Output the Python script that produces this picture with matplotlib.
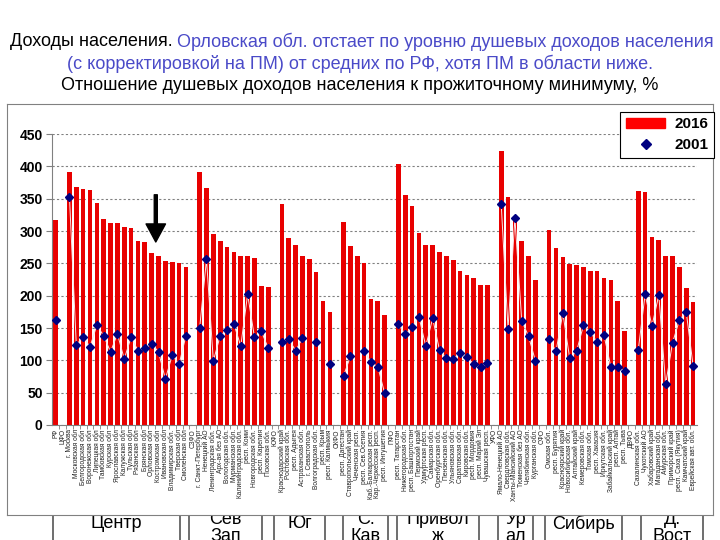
import numpy as np
import matplotlib
matplotlib.use("Agg")
import matplotlib.pyplot as plt
from matplotlib.patches import Rectangle
from matplotlib.lines import Line2D

nan = np.nan

# regions in the order of the chart, district names mark the empty slots
regions = [
    "РФ", "ЦФО", "г. Москва", "Московская обл", "Белгородская обл", "Воронежская обл",
    "Липецкая обл", "Тамбовская обл", "Курская обл", "Ярославская обл", "Калужская обл",
    "Тульская обл", "Рязанская обл", "Брянская обл", "Орловская обл", "Костромская обл",
    "Ивановская обл", "Владимирская обл.", "Тверская обл", "Смоленская обл",
    "СЗФО", "г. Санкт-Петербург", "Ненецкий АО", "Ленинградская обл.", "Арх-ая без АО",
    "Вологодская обл.", "Мурманская обл.", "Калининградская обл.", "респ. Коми",
    "Новгородская обл.", "респ. Карелия", "Псковская обл.",
    "ЮФО", "Краснодарский край", "Ростовская обл.", "респ. Адыгея", "Астраханская обл.",
    "г. Севастополь", "Волгоградская обл.", "респ. Крым", "респ. Калмыкия",
    "СКФО", "респ. Дагестан", "Ставропольский край", "Чеченская респ.", "респ. Сев.Осетия",
    "Каб.-Балкарская респ.", "Кар.-Черкесская респ.", "респ. Ингушетия",
    "ПФО", "респ. Татарстан", "Нижегородская обл.", "респ. Башкортостан", "Пермский край",
    "Удмуртская респ.", "Самарская обл.", "Оренбургская обл.", "Пензенская обл.",
    "Ульяновская обл.", "Саратовская обл.", "Кировская обл.", "респ. Мордовия",
    "респ. Марий Эл", "Чувашская респ.",
    "УФО", "Ямало-Ненецкий АО", "Свердловская обл.", "Ханты-Мансийский АО",
    "Тюменская без АО", "Челябинская обл.", "Курганская обл.",
    "СФО", "Омская обл.", "респ. Бурятия", "Красноярский край", "Новосибирская обл.",
    "Алтайский край", "Кемеровская обл.", "Томская обл.", "респ. Хакасия", "Иркутская обл.",
    "Забайкальский край", "респ. Алтай", "респ. Тыва",
    "ДВФО", "Сахалинская обл.", "Чукотский АО", "Хабаровский край", "Магаданская обл.",
    "Амурская обл.", "Приморский край", "респ. Саха (Якутия)", "Камчатский край",
    "Еврейская авт. обл.",
]

inc_2016 = [
    317, nan, 392, 368, 365, 364, 344, 318, 313, 313, 306, 305, 285, 283, 266, 262, 253, 252, 250, 244,
    nan, 391, 367, 296, 285, 275, 268, 261, 261, 259, 215, 213,
    nan, 342, 289, 278, 262, 257, 236, 192, 175,
    nan, 314, 277, 262, 251, 195, 192, 170,
    nan, 403, 356, 339, 297, 279, 278, 268, 261, 255, 238, 232, 228, 216, 216,
    nan, 424, 353, 318, 285, 262, 225,
    nan, 301, 274, 260, 249, 248, 244, 238, 238, 227, 225, 192, 146,
    nan, 362, 360, 290, 286, 262, 261, 244, 212, 190,
]

inc_2001 = [
    163, nan, 353, 124, 136, 121, 154, 138, 113, 141, 102, 136, 115, 119, 126, 113, 71, 108, 94, 138,
    nan, 150, 256, 99, 138, 147, 156, 122, 202, 136, 145, 119,
    nan, 128, 133, 115, 134, nan, 129, nan, 94,
    nan, 76, 106, nan, 115, 97, 90, 49,
    nan, 156, 140, 152, 167, 122, 165, 116, 103, 102, 112, 105, 94, 90, 96,
    nan, 342, 149, 320, 161, 137, 99,
    nan, 133, 114, 173, 103, 114, 154, 144, 128, 139, 90, 90, 84,
    nan, 116, 202, 153, 201, 63, 127, 162, 175, 92,
]

districts = ["Центр", "Сев\nЗап", "Юг", "С.\nКав", "Привол\nж", "Ур\nал", "Сибирь", "Д.\nВост"]

W, H = 720, 540
box_edges = [(53, 180), (189, 262), (274, 325), (343, 388), (397, 479),
             (498, 533), (545, 622), (641, 703)]

plt.rcParams['font.family'] = ['Liberation Sans', 'DejaVu Sans']
narrow = ['Liberation Sans Narrow', 'Liberation Sans', 'DejaVu Sans']

fig = plt.figure(figsize=(7.2, 5.4), dpi=100)

# district boxes under the chart area (their upper lines hide behind it)
bx = fig.add_axes([0, 0, 1, 1], zorder=0)
bx.set_xlim(0, W)
bx.set_ylim(H, 0)
bx.axis('off')
for name, (x0, x1) in zip(districts, box_edges):
    bx.add_patch(Rectangle((x0, 514), x1 - x0, 40, fill=False, ec='#555555', lw=1.2))
    yc = 528 if '\n' in name else 524
    bx.text((x0 + x1) / 2, yc, name, ha='center', va='center', fontsize=13,
            family=narrow, linespacing=1.0)

# white chart area with grey border
ca = fig.add_axes([7 / W, 1 - 515 / H, 706 / W, (515 - 104) / H], zorder=1)
ca.set_xticks([])
ca.set_yticks([])
for s in ca.spines.values():
    s.set_color('#808080')
    s.set_linewidth(0.8)

ax = fig.add_axes([52.3 / W, 1 - 425 / H, (696.5 - 52.3) / W, (425 - 134) / H], zorder=2)
ax.patch.set_alpha(0)

x = np.arange(len(regions))
ax.bar(x, inc_2016, width=0.68, color='#e80000', zorder=2)
ax.plot(x, inc_2001, color='#fbe4e4', lw=0.7, zorder=3)
ax.plot(x, inc_2001, ls='none', marker='D', ms=4.5, color='#000080', zorder=4)

ax.set_xlim(-0.5, len(regions) - 0.5)
ax.set_ylim(0, 450)
ax.set_yticks(np.arange(0, 451, 50))
ax.yaxis.grid(True, ls=(0, (2, 2)), color='#808080', lw=0.8)
ax.set_axisbelow(True)
for lbl in ax.get_yticklabels():
    lbl.set_fontweight('bold')
ax.tick_params(axis='y', labelsize=10, length=4, color='#808080', pad=3)

ax.set_xticks(x)
ax.set_xticklabels(regions, rotation=90, fontsize=4.8, color='#202020')
ax.set_xticks(x[:-1] + 0.5, minor=True)
ax.tick_params(axis='x', which='major', length=0, pad=3)
ax.tick_params(axis='x', which='minor', length=3, color='#808080')

for side in ['top', 'right']:
    ax.spines[side].set_visible(False)
ax.spines['left'].set_color('#808080')
ax.spines['bottom'].set_color('#808080')

# arrow pointing to Orel region
orel = regions.index("Орловская обл")
ax.annotate('', xy=(orel + 0.6, 283), xytext=(orel + 0.6, 356),
            arrowprops=dict(facecolor='black', edgecolor='black', width=2.2,
                            headwidth=14, headlength=13), zorder=6)

handles = [Rectangle((0, 0), 1, 1, color='#ff0000'),
           Line2D([], [], ls='none', marker='D', ms=5, color='#000080')]
leg = ax.legend(handles, ['2016', '2001'], loc='upper right',
                bbox_to_anchor=(714 / W, 1 - 112 / H), bbox_transform=fig.transFigure,
                borderaxespad=0, fancybox=False, framealpha=1, edgecolor='black',
                prop={'weight': 'bold', 'size': 11}, handlelength=2.6,
                borderpad=0.35, labelspacing=0.45, handletextpad=0.6)
leg.get_frame().set_linewidth(0.8)

# title, first line in two colours
blue = '#4a4ac8'
t1 = fig.text(0, 1 - 42 / H, "Доходы населения. ", fontsize=13, family=narrow,
              va='center', color='black')
t2 = fig.text(0, 1 - 42 / H, "Орловская обл. отстает по уровню душевых доходов населения",
              fontsize=13, family=narrow, va='center', color=blue)
fig.canvas.draw()
r = fig.canvas.get_renderer()
w1 = t1.get_window_extent(r).width
w2 = t2.get_window_extent(r).width
start = (W * 1.005 - w1 - w2) / 2
t1.set_x(start / W)
t2.set_x((start + w1) / W)
fig.text(0.5, 1 - 64 / H, "(с корректировкой на ПМ) от средних по РФ, хотя ПМ в области ниже.",
         fontsize=13, family=narrow, ha='center', va='center', color=blue)
fig.text(0.5, 1 - 86 / H, "Отношение душевых доходов населения к прожиточному минимуму, %",
         fontsize=13, family=narrow, ha='center', va='center', color='black')

fig.savefig("out.png", dpi=100)
